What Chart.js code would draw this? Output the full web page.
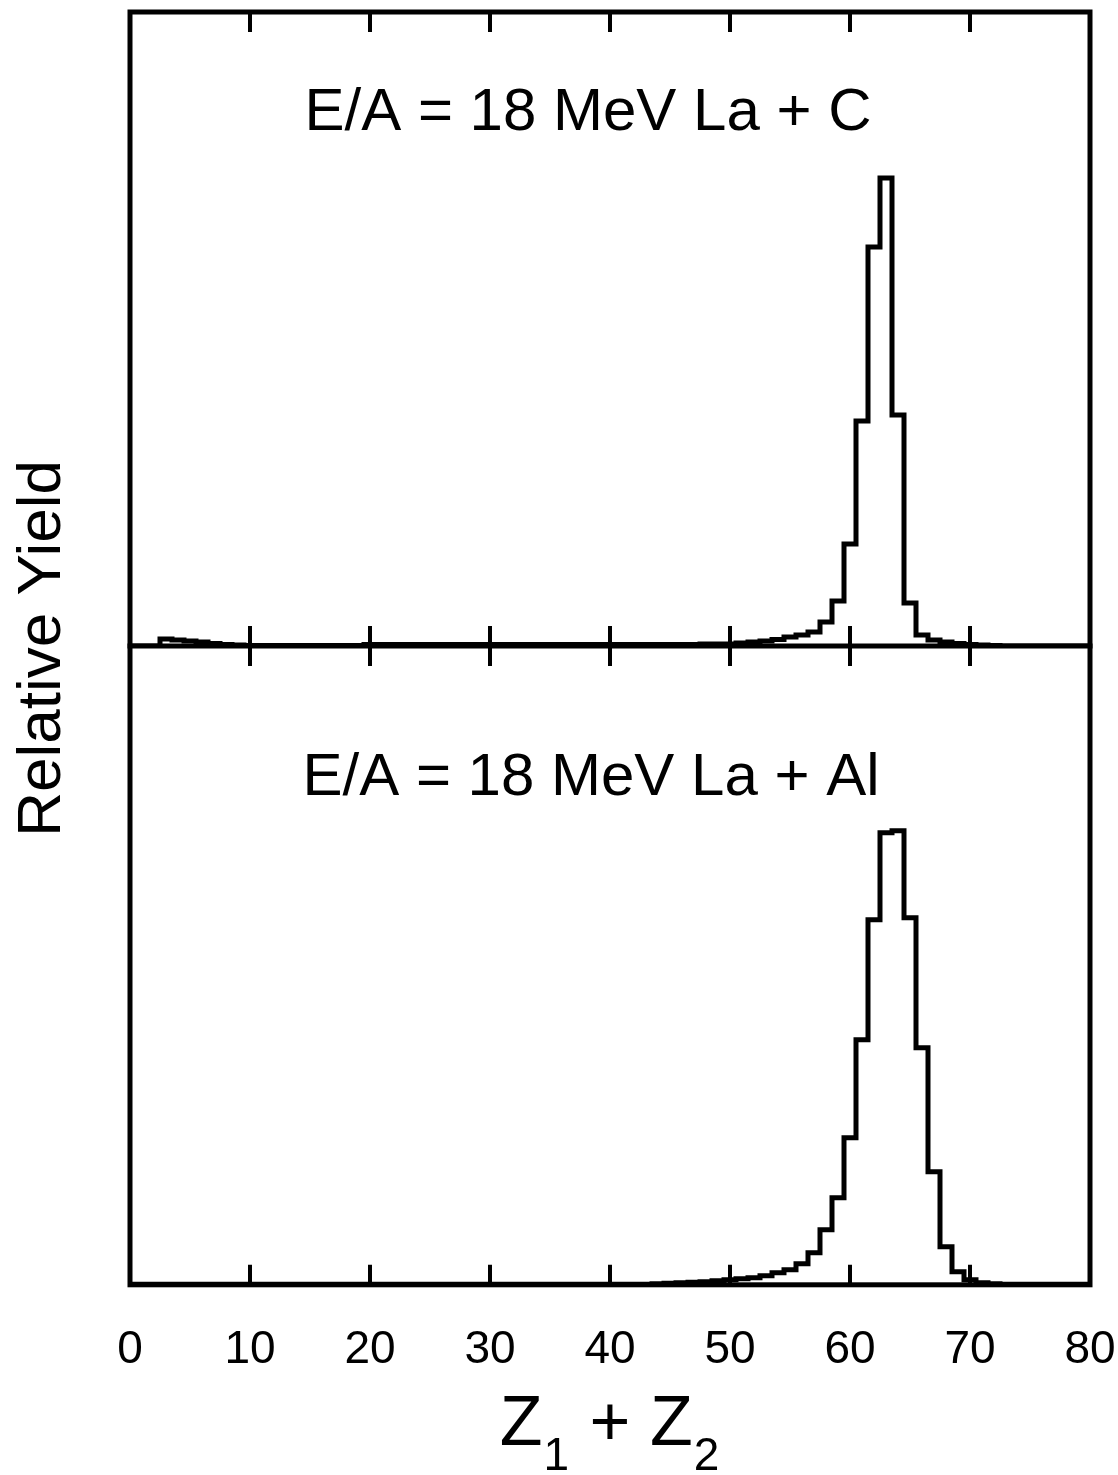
<!DOCTYPE html>
<html>
<head>
<meta charset="utf-8">
<script src="https://cdn.jsdelivr.net/npm/chart.js@4.4.0/dist/chart.umd.min.js"></script>
<style>
  html, body { margin: 0; padding: 0; background: #ffffff; }
  #wrap { width: 1118px; height: 1475px; position: relative; }
</style>
</head>
<body>
<div id="wrap"><canvas id="c" width="1118" height="1475"></canvas></div>
<script>
// ---- data ----
const binCenters = Array.from({length: 81}, (_, i) => i); // Z1+Z2 = 0..80 (bin centres)

// upper panel : E/A = 18 MeV La + C   (relative yield, arbitrary units)
const yieldLaC = [
  0, 0, 0, 7, 6, 5, 4, 2.5, 1.5, 1,          // 0-9
  0.5, 0.5, 0.5, 0.5, 0.5, 0.5, 0.5, 0.5, 0.5, 0.5, // 10-19
  1.5, 1.5, 1.5, 1.5, 1.5, 1.5, 1.5, 1.5, 1.5, 1.5, // 20-29
  1.5, 1.5, 1.5, 1.5, 1.5, 1.5, 1.5, 1.5, 1.5, 1.5, // 30-39
  1.5, 1.5, 1.5, 1.5, 1.5, 1.5, 1.5, 1.5, 2, 2,     // 40-49
  2, 3, 4, 5, 6.5, 9, 11, 14, 24, 45,              // 50-59
  102, 225, 399, 468, 231, 43, 11, 6, 4, 2.5,       // 60-69
  1.5, 1, 0.5, 0, 0, 0, 0, 0, 0, 0,                // 70-79
  0                                                 // 80
];

// lower panel : E/A = 18 MeV La + Al
const yieldLaAl = [
  0.5, 0.5, 0.5, 0.5, 0.5, 0.5, 0.5, 0.5, 0.5, 0.5, // 0-9
  0.5, 0.5, 0.5, 0.5, 0.5, 0.5, 0.5, 0.5, 0.5, 0.5, // 10-19
  0.5, 0.5, 0.5, 0.5, 0.5, 0.5, 0.5, 0.5, 0.5, 0.5, // 20-29
  0.5, 0.5, 0.5, 0.5, 0.5, 0.5, 0.5, 0.5, 0.5, 0.5, // 30-39
  0.5, 0.5, 0.5, 0.5, 1, 1.5, 2, 2.5, 3, 4,         // 40-49
  5, 6, 7, 9, 12, 15, 21, 32, 55, 87,               // 50-59
  147, 245, 365, 452, 454, 367, 237, 113, 38, 13,   // 60-69
  5, 2, 1, 0.5, 0.5, 0.5, 0.5, 0.5, 0.5, 0.5,       // 70-79
  0.5                                               // 80
];

const panelLabels = ['E/A = 18 MeV La + C', 'E/A = 18 MeV La + Al'];
const xTickValues = [0, 10, 20, 30, 40, 50, 60, 70, 80];
// x-axis title "Z1 + Z2": [main text, subscript] pieces
const xTitleParts = [['Z', '1'], [' + ', ''], ['Z', '2']];
const yTitle = 'Relative Yield';
const topMax = 634;
const bottomMax = 639;

// ---- rendering ----
const FONT = '"Liberation Sans", Arial, Helvetica, sans-serif';

const framePlugin = {
  id: 'framePlugin',
  afterDraw(chart) {
    const {ctx, chartArea: a, scales} = chart;
    const xs = scales.x, yt = scales.yTop, yb = scales.yBottom;
    const mid = yt.getPixelForValue(0);
    ctx.save();
    ctx.strokeStyle = '#000';
    ctx.lineWidth = 5;
    ctx.lineCap = 'square';
    ctx.strokeRect(a.left, a.top, a.right - a.left, a.bottom - a.top);
    ctx.beginPath();
    ctx.moveTo(a.left, mid); ctx.lineTo(a.right, mid);
    ctx.stroke();
    ctx.lineCap = 'butt';
    ctx.lineWidth = 4;
    ctx.beginPath();
    xTickValues.forEach(v => {
      if (v <= xs.min || v >= xs.max) return;
      const px = xs.getPixelForValue(v);
      ctx.moveTo(px, a.top); ctx.lineTo(px, a.top + 20);
      ctx.moveTo(px, mid - 20); ctx.lineTo(px, mid + 20);
      ctx.moveTo(px, a.bottom - 20); ctx.lineTo(px, a.bottom);
    });
    ctx.stroke();

    // panel labels
    ctx.fillStyle = '#000';
    ctx.font = '60px ' + FONT;
    ctx.textAlign = 'center';
    ctx.textBaseline = 'alphabetic';
    const cx = (a.left + a.right) / 2;
    ctx.fillText(panelLabels[0], cx - 22, yt.top + 118);
    ctx.fillText(panelLabels[1], cx - 19, yb.top + 149);

    // x-axis title with subscripts
    const mainFont = '70px ' + FONT, subFont = '46px ' + FONT;
    let total = 0;
    const widths = xTitleParts.map(([m, s]) => {
      ctx.font = mainFont; const wm = ctx.measureText(m).width;
      ctx.font = subFont; const ws = s ? ctx.measureText(s).width + 2 : 0;
      total += wm + ws;
      return [wm, ws];
    });
    let x = cx - total / 2;
    const base = a.bottom + 160;
    ctx.textAlign = 'left';
    xTitleParts.forEach(([m, s], i) => {
      ctx.font = mainFont; ctx.fillText(m, x, base);
      x += widths[i][0];
      if (s) { ctx.font = subFont; ctx.fillText(s, x + 1, base + 25); x += widths[i][1]; }
    });
    ctx.restore();
  }
};

new Chart(document.getElementById('c'), {
  type: 'line',
  data: {
    datasets: [
      {
        label: panelLabels[0],
        data: binCenters.map((x, i) => ({x: x, y: yieldLaC[i]})),
        yAxisID: 'yTop',
        stepped: 'middle',
        borderColor: '#000',
        borderWidth: 5,
        pointRadius: 0,
        fill: false
      },
      {
        label: panelLabels[1],
        data: binCenters.map((x, i) => ({x: x, y: yieldLaAl[i]})),
        yAxisID: 'yBottom',
        stepped: 'middle',
        borderColor: '#000',
        borderWidth: 5,
        pointRadius: 0,
        fill: false
      }
    ]
  },
  options: {
    responsive: false,
    animation: false,
    devicePixelRatio: 1,
    layout: { padding: { top: 12, right: 28, bottom: 59, left: 0 } },
    plugins: {
      legend: { display: false },
      tooltip: { enabled: false },
      title: {
        display: true,
        text: yTitle,
        position: 'left',
        fullSize: false,
        color: '#000',
        font: { family: FONT, size: 62, weight: 'normal', lineHeight: 1.2 },
        padding: { top: 6, bottom: 49.6 }
      }
    },
    scales: {
      x: {
        type: 'linear',
        min: 0,
        max: 80,
        position: 'bottom',
        afterBuildTicks: (s) => { s.ticks = xTickValues.map(v => ({value: v})); },
        afterFit: (s) => { s.paddingLeft = 0; s.paddingRight = 0; },
        ticks: {
          color: '#000',
          font: { family: FONT, size: 46, lineHeight: 1.2 },
          padding: 38,
          maxRotation: 0,
          autoSkip: false
        },
        grid: { display: false, drawTicks: false },
        border: { display: false },
        title: { display: false }
      },
      yBottom: {
        type: 'linear',
        position: 'left',
        stack: 'panels',
        stackWeight: bottomMax,
        min: 0,
        max: bottomMax,
        display: false
      },
      yTop: {
        type: 'linear',
        position: 'left',
        stack: 'panels',
        stackWeight: topMax,
        min: 0,
        max: topMax,
        display: false
      }
    }
  },
  plugins: [framePlugin]
});
</script>
</body>
</html>
